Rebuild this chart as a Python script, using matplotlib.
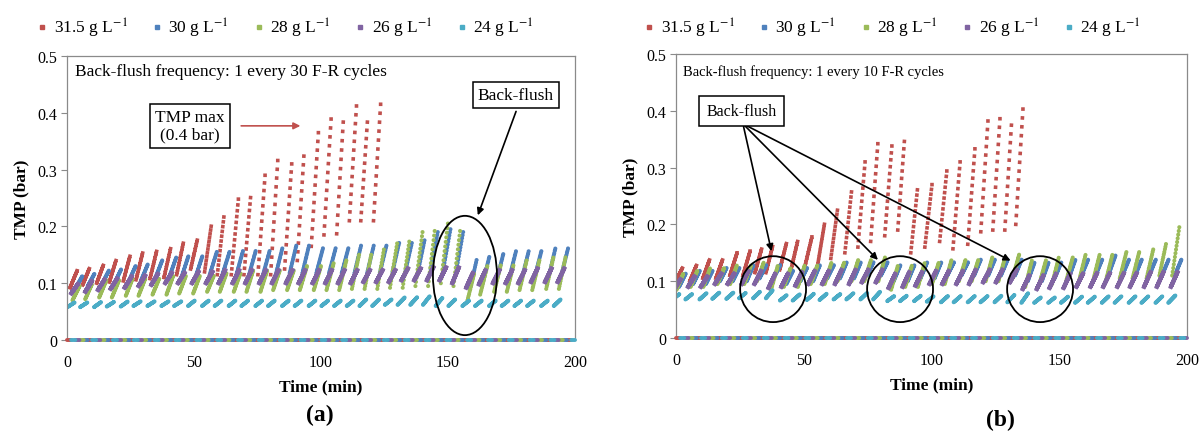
import numpy as np
import matplotlib
matplotlib.use("Agg")
import matplotlib.pyplot as plt
from matplotlib.lines import Line2D
from matplotlib.patches import Ellipse

plt.rcParams['font.family'] = ['Liberation Serif', 'DejaVu Serif']
plt.rcParams['mathtext.fontset'] = 'stix'
plt.rcParams['lines.scale_dashes'] = False

labels = ['31.5 g L$^{-1}$', '30 g L$^{-1}$', '28 g L$^{-1}$', '26 g L$^{-1}$', '24 g L$^{-1}$']
colors = ['#C0504D', '#4F81BD', '#9BBB59', '#8064A2', '#4BACC6']

# time span of the runs and the TMP during relaxation
t_span = [0, 200]
relax_tmp = 0.0
filtration_min = 2.8

# ---- panel (a): back-flush every 30 F-R cycles ----
# end-of-filtration time (min), TMP at start and end of each filtration (bar)
a_r_t = [4, 9, 14.5, 19.5, 25, 30, 35.5, 41, 46, 51.5, 57, 62, 67.5, 72.5, 78, 83, 88.5, 93.5, 99, 104, 109, 114, 118.5, 123.5]
a_r_lo = [0.092, 0.097, 0.100, 0.102, 0.104, 0.106, 0.108, 0.110, 0.115, 0.125, 0.120, 0.115, 0.115, 0.115, 0.115, 0.115, 0.125, 0.140, 0.165, 0.185, 0.187, 0.210, 0.210, 0.210]
a_r_hi = [0.122, 0.128, 0.134, 0.143, 0.151, 0.157, 0.160, 0.165, 0.175, 0.180, 0.207, 0.225, 0.248, 0.262, 0.290, 0.316, 0.310, 0.339, 0.365, 0.389, 0.400, 0.412, 0.398, 0.415]

a_b_t = [6, 11, 16.5, 21.5, 27, 32, 37.5, 43, 48, 53.5, 59, 64, 69.5, 74.5, 80, 85, 90.5, 95.5, 101, 106, 111, 116, 121, 126, 131, 136, 141, 146, 151, 156, 161.5, 166.5, 172, 177, 182, 187, 192.5, 197.5]
a_b_lo = [0.09, 0.095, 0.098, 0.1, 0.102, 0.105, 0.108, 0.11, 0.112, 0.112, 0.115, 0.115, 0.115, 0.115, 0.115, 0.115, 0.118, 0.118, 0.118, 0.118, 0.118, 0.118, 0.118, 0.118, 0.12, 0.12, 0.12, 0.125, 0.125, 0.12, 0.09, 0.1, 0.105, 0.11, 0.11, 0.112, 0.112, 0.115]
a_b_hi = [0.112, 0.118, 0.122, 0.126, 0.13, 0.135, 0.14, 0.145, 0.15, 0.15, 0.155, 0.155, 0.16, 0.16, 0.16, 0.165, 0.17, 0.17, 0.165, 0.165, 0.165, 0.17, 0.17, 0.17, 0.175, 0.175, 0.18, 0.19, 0.195, 0.19, 0.145, 0.15, 0.155, 0.16, 0.16, 0.16, 0.165, 0.165]

a_g_t = [5, 10, 15.5, 20.5, 26, 31, 36.5, 42, 47, 52.5, 58, 63, 68.5, 73.5, 79, 84, 89.5, 94.5, 100, 105, 110, 115, 120, 125, 130, 135, 140, 145, 150, 155, 160.5, 165.5, 171, 176, 181, 186, 191.5, 196.5]
a_g_lo = [0.07, 0.072, 0.075, 0.075, 0.078, 0.078, 0.08, 0.08, 0.082, 0.082, 0.085, 0.085, 0.085, 0.085, 0.085, 0.088, 0.088, 0.088, 0.088, 0.088, 0.088, 0.09, 0.09, 0.09, 0.092, 0.092, 0.095, 0.095, 0.1, 0.095, 0.07, 0.08, 0.085, 0.085, 0.088, 0.088, 0.09, 0.09]
a_g_hi = [0.095, 0.1, 0.105, 0.105, 0.11, 0.11, 0.11, 0.115, 0.115, 0.115, 0.115, 0.12, 0.12, 0.125, 0.125, 0.125, 0.125, 0.13, 0.13, 0.135, 0.14, 0.15, 0.155, 0.165, 0.17, 0.18, 0.19, 0.2, 0.205, 0.2, 0.12, 0.13, 0.135, 0.135, 0.14, 0.14, 0.145, 0.15]

a_p_t = [4.5, 10, 15, 20, 25.5, 31, 36, 41.5, 46.5, 52, 57.5, 62.5, 68, 73, 78.5, 83.5, 89, 94, 99.5, 104.5, 109.5, 114.5, 119.5, 124.5, 129.5, 134.5, 139.5, 144.5, 149.5, 154.5, 160, 165, 170.5, 175.5, 180.5, 185.5, 191, 196]
a_p_lo = [0.082, 0.085, 0.088, 0.09, 0.092, 0.095, 0.097, 0.1, 0.1, 0.1, 0.1, 0.1, 0.1, 0.1, 0.1, 0.1, 0.1, 0.1, 0.1, 0.1, 0.1, 0.1, 0.102, 0.102, 0.102, 0.105, 0.105, 0.105, 0.105, 0.1, 0.092, 0.098, 0.1, 0.1, 0.1, 0.102, 0.102, 0.102]
a_p_hi = [0.1, 0.105, 0.108, 0.11, 0.112, 0.115, 0.118, 0.12, 0.12, 0.122, 0.122, 0.125, 0.125, 0.125, 0.125, 0.125, 0.125, 0.125, 0.125, 0.125, 0.125, 0.125, 0.125, 0.125, 0.125, 0.128, 0.128, 0.13, 0.13, 0.13, 0.12, 0.125, 0.125, 0.125, 0.125, 0.128, 0.128, 0.128]

a_c_t = [3, 8, 13.5, 18.5, 24, 29, 34.5, 40, 45, 50.5, 56, 61, 66.5, 71.5, 77, 82, 87.5, 92.5, 98, 103, 108, 113, 118, 123, 128, 133, 138, 143, 148, 153, 158.5, 163.5, 169, 174, 179, 184, 189.5, 194.5]
a_c_lo = [0.058, 0.058, 0.058, 0.059, 0.059, 0.06, 0.06, 0.06, 0.06, 0.06, 0.06, 0.06, 0.06, 0.06, 0.06, 0.06, 0.06, 0.06, 0.06, 0.06, 0.06, 0.06, 0.06, 0.06, 0.062, 0.062, 0.062, 0.062, 0.06, 0.06, 0.06, 0.06, 0.06, 0.06, 0.06, 0.06, 0.06, 0.06]
a_c_hi = [0.066, 0.066, 0.067, 0.067, 0.068, 0.068, 0.068, 0.068, 0.068, 0.07, 0.07, 0.07, 0.07, 0.07, 0.07, 0.07, 0.07, 0.07, 0.07, 0.07, 0.07, 0.07, 0.072, 0.072, 0.072, 0.075, 0.076, 0.078, 0.075, 0.072, 0.07, 0.07, 0.07, 0.07, 0.07, 0.07, 0.07, 0.072]

# ---- panel (b): back-flush every 10 F-R cycles ----
b_r_t = [2.7, 8.2, 13.3, 18.4, 23.9, 29, 33.7, 38, 43.4, 47.8, 53.2, 58.3, 63.4, 68.9, 74, 79, 84.5, 89.6, 94.7, 100.2, 106, 111.2, 117, 122.1, 126.8, 131.5, 135.8]
b_r_lo = [0.1, 0.1, 0.105, 0.105, 0.11, 0.11, 0.115, 0.115, 0.12, 0.12, 0.125, 0.13, 0.14, 0.15, 0.16, 0.17, 0.18, 0.19, 0.15, 0.16, 0.17, 0.157, 0.165, 0.187, 0.19, 0.19, 0.2]
b_r_hi = [0.125, 0.13, 0.14, 0.14, 0.15, 0.153, 0.16, 0.165, 0.17, 0.174, 0.178, 0.206, 0.232, 0.266, 0.31, 0.342, 0.338, 0.359, 0.27, 0.27, 0.294, 0.31, 0.333, 0.382, 0.386, 0.39, 0.403]

b_b_t = [4, 9.5, 14.5, 20, 25, 30.5, 35.5, 41, 46, 51.5, 56.5, 62, 67, 72.5, 77.5, 83, 88, 93.5, 98.5, 104, 109, 114.5, 119.5, 125, 130, 135.5, 140.5, 146, 151, 156.5, 161.5, 167, 172, 177.5, 182.5, 188, 193, 198]
b_b_lo = [0.09, 0.095, 0.095, 0.1, 0.1, 0.1, 0.105, 0.105, 0.095, 0.1, 0.1, 0.105, 0.105, 0.105, 0.11, 0.11, 0.1, 0.1, 0.105, 0.105, 0.11, 0.11, 0.11, 0.11, 0.11, 0.11, 0.1, 0.1, 0.105, 0.105, 0.11, 0.11, 0.11, 0.11, 0.11, 0.11, 0.11, 0.11]
b_b_hi = [0.115, 0.12, 0.12, 0.125, 0.125, 0.13, 0.13, 0.13, 0.12, 0.125, 0.13, 0.13, 0.135, 0.135, 0.135, 0.135, 0.13, 0.13, 0.135, 0.135, 0.135, 0.135, 0.14, 0.14, 0.14, 0.14, 0.135, 0.135, 0.135, 0.14, 0.14, 0.14, 0.145, 0.14, 0.14, 0.14, 0.14, 0.14]

b_g_t = [3, 8.5, 13.5, 19, 24, 29.5, 34.5, 40, 45, 50.5, 55.5, 61, 66, 71.5, 76.5, 82, 87, 92.5, 97.5, 103, 108, 113.5, 118.5, 124, 129, 134.5, 139.5, 145, 150, 155.5, 160.5, 166, 171, 176.5, 181.5, 187, 192, 197]
b_g_lo = [0.085, 0.09, 0.09, 0.095, 0.095, 0.095, 0.1, 0.085, 0.09, 0.09, 0.095, 0.095, 0.1, 0.1, 0.1, 0.1, 0.085, 0.09, 0.09, 0.095, 0.095, 0.1, 0.1, 0.1, 0.1, 0.105, 0.09, 0.095, 0.095, 0.1, 0.1, 0.1, 0.1, 0.105, 0.105, 0.105, 0.11, 0.11]
b_g_hi = [0.115, 0.12, 0.125, 0.125, 0.13, 0.13, 0.135, 0.13, 0.125, 0.13, 0.13, 0.135, 0.135, 0.14, 0.14, 0.145, 0.13, 0.13, 0.135, 0.135, 0.14, 0.14, 0.14, 0.145, 0.145, 0.15, 0.14, 0.14, 0.145, 0.145, 0.15, 0.15, 0.15, 0.155, 0.155, 0.16, 0.17, 0.195]

b_p_t = [2, 7.5, 12.5, 18, 23, 28.5, 33.5, 39, 44, 49.5, 54.5, 60, 65, 70.5, 75.5, 81, 86, 91.5, 96.5, 102, 107, 112.5, 117.5, 123, 128, 133.5, 138.5, 144, 149, 154.5, 159.5, 165, 170, 175.5, 180.5, 186, 191, 196.5]
b_p_lo = [0.085, 0.09, 0.09, 0.095, 0.095, 0.095, 0.095, 0.088, 0.09, 0.092, 0.095, 0.095, 0.095, 0.095, 0.098, 0.098, 0.088, 0.09, 0.092, 0.095, 0.095, 0.095, 0.095, 0.098, 0.098, 0.098, 0.086, 0.086, 0.088, 0.088, 0.09, 0.09, 0.09, 0.09, 0.09, 0.09, 0.09, 0.09]
b_p_hi = [0.105, 0.11, 0.11, 0.115, 0.115, 0.12, 0.12, 0.115, 0.115, 0.118, 0.12, 0.12, 0.122, 0.122, 0.122, 0.122, 0.115, 0.118, 0.118, 0.12, 0.12, 0.12, 0.122, 0.122, 0.122, 0.122, 0.112, 0.112, 0.115, 0.115, 0.115, 0.116, 0.116, 0.116, 0.116, 0.118, 0.118, 0.118]

b_c_t = [1.5, 6.5, 12, 17, 22.5, 27.5, 33, 38, 43.5, 48.5, 54, 59, 64.5, 69.5, 75, 80, 85.5, 90.5, 96, 101, 106.5, 111.5, 117, 122, 127.5, 132.5, 138, 143, 148.5, 153.5, 159, 164, 169.5, 174.5, 180, 185, 190.5, 195.5]
b_c_lo = [0.068, 0.068, 0.068, 0.069, 0.069, 0.07, 0.07, 0.07, 0.066, 0.066, 0.067, 0.067, 0.068, 0.068, 0.068, 0.068, 0.065, 0.065, 0.065, 0.064, 0.063, 0.063, 0.063, 0.063, 0.063, 0.063, 0.062, 0.062, 0.062, 0.062, 0.062, 0.062, 0.062, 0.062, 0.062, 0.062, 0.062, 0.062]
b_c_hi = [0.078, 0.078, 0.079, 0.08, 0.08, 0.08, 0.082, 0.085, 0.076, 0.077, 0.078, 0.078, 0.078, 0.079, 0.08, 0.082, 0.074, 0.075, 0.075, 0.074, 0.074, 0.074, 0.074, 0.074, 0.075, 0.076, 0.08, 0.072, 0.072, 0.073, 0.073, 0.073, 0.074, 0.074, 0.074, 0.074, 0.074, 0.075]

series_a = [(a_r_t, a_r_lo, a_r_hi), (a_b_t, a_b_lo, a_b_hi), (a_g_t, a_g_lo, a_g_hi),
            (a_p_t, a_p_lo, a_p_hi), (a_c_t, a_c_lo, a_c_hi)]
series_b = [(b_r_t, b_r_lo, b_r_hi), (b_b_t, b_b_lo, b_b_hi), (b_g_t, b_g_lo, b_g_hi),
            (b_p_t, b_p_lo, b_p_hi), (b_c_t, b_c_lo, b_c_hi)]

caps = ['projecting', 'round', 'round', 'projecting', 'round']
widths = [2.6, 3.0, 3.0, 3.0, 3.0]

fig = plt.figure(figsize=(12.02, 4.39), dpi=100)
ax_a = fig.add_axes([0.0557, 0.2232, 0.4226, 0.647])
ax_b = fig.add_axes([0.5624, 0.2278, 0.4251, 0.647])


def setup(ax):
    ax.set_xlim(0, 200)
    ax.set_ylim(0, 0.5)
    ax.set_xticks([0, 50, 100, 150, 200])
    ax.set_yticks([0, 0.1, 0.2, 0.3, 0.4, 0.5])
    ax.set_yticklabels(['0', '0.1', '0.2', '0.3', '0.4', '0.5'])
    for s in ax.spines.values():
        s.set_color('#8a8a8a')
        s.set_linewidth(0.9)
    ax.tick_params(axis='y', direction='out', length=4, color='#8a8a8a', labelsize=11.5, pad=3)
    ax.tick_params(axis='x', direction='out', length=0, labelsize=11.5, pad=10)
    ax.set_xlabel('Time (min)', fontsize=12.5, fontweight='bold', labelpad=6)
    ax.set_ylabel('TMP (bar)', fontsize=12.5, fontweight='bold', labelpad=6)


def draw_cycles(ax, series, n_pts=14):
    for i, (ts, lo, hi) in enumerate(series):
        # relaxation points sit on the zero line
        ax.plot(t_span, [relax_tmp, relax_tmp], color=colors[i], lw=2.8,
                linestyle=(i * 3.0, (3.0, 12.0)), dash_capstyle='round', clip_on=False, zorder=3)
        for t, a, b in zip(ts, lo, hi):
            xs = [t - filtration_min, t]
            ys = [a, b]
            p = ax.transData.transform(np.column_stack([xs, ys]))
            length = np.hypot(*(p[1] - p[0])) * 72 / fig.dpi
            step = max(length / (n_pts - 1), 0.6)
            ax.plot(xs, ys, color=colors[i], lw=widths[i], linestyle=(0, (0.01, step - 0.01)),
                    dash_capstyle=caps[i], zorder=2)


for ax, series in [(ax_a, series_a), (ax_b, series_b)]:
    setup(ax)
    draw_cycles(ax, series)

box = dict(boxstyle='square,pad=0.3', fc='white', ec='black', lw=1.1)

# panel (a) annotations
ax_a.text(0.016, 0.947, 'Back-flush frequency: 1 every 30 F-R cycles', transform=ax_a.transAxes,
          fontsize=12.5, va='center')
ax_a.text(48.4, 0.377, 'TMP max\n(0.4 bar)', ha='center', va='center', fontsize=12.5,
          linespacing=1.1, bbox=box, zorder=5)
ax_a.annotate('', xy=(93, 0.377), xytext=(67.5, 0.377),
              arrowprops=dict(arrowstyle='-|>', color='#C0504D', lw=1.2, mutation_scale=10))
ax_a.text(176.8, 0.431, 'Back-flush', ha='center', va='center', fontsize=12.5, bbox=box, zorder=5)
ax_a.annotate('', xy=(161.4, 0.215), xytext=(177.2, 0.407),
              arrowprops=dict(arrowstyle='-|>', color='black', lw=1.2, mutation_scale=10))
ax_a.add_patch(Ellipse((156.7, 0.1136), 25.2, 0.21, fill=False, ec='black', lw=1.3, zorder=4))

# panel (b) annotations
ax_b.text(0.014, 0.94, 'Back-flush frequency: 1 every 10 F-R cycles', transform=ax_b.transAxes,
          fontsize=10.5, va='center')
ax_b.text(25.7, 0.40, 'Back-flush', ha='center', va='center', fontsize=11.5,
          bbox=dict(boxstyle='square,pad=0.45', fc='white', ec='black', lw=1.1), zorder=5)
for tip in [(37.6, 0.148), (79.8, 0.134), (131.9, 0.134)]:
    ax_b.annotate('', xy=tip, xytext=(26.2, 0.377),
                  arrowprops=dict(arrowstyle='-|>', color='black', lw=1.2, mutation_scale=10))
for c in [38, 87.7, 142.5]:
    ax_b.add_patch(Ellipse((c, 0.086), 25.8, 0.116, fill=False, ec='black', lw=1.3, zorder=4))

# legends
handles = [Line2D([], [], ls='none', marker='s', ms=3.2, color=c) for c in colors]
for x0 in [38 / 1202, 645 / 1202]:
    fig.legend(handles, labels, loc='center left', bbox_to_anchor=(x0, 0.935), ncol=5,
               frameon=False, fontsize=12.5, handlelength=0.5, handletextpad=0.4,
               columnspacing=1.45, borderaxespad=0, borderpad=0)

fig.text(320 / 1202, 1 - 415 / 439, '(a)', ha='center', va='center', fontsize=17, fontweight='bold')
fig.text(1000 / 1202, 1 - 420 / 439, '(b)', ha='center', va='center', fontsize=17, fontweight='bold')

fig.savefig('out.png', dpi=100)
